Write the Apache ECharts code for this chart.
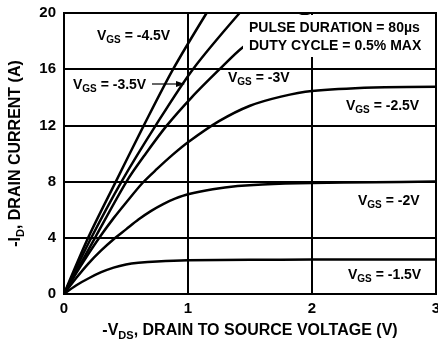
<!DOCTYPE html>
<html>
<head>
<meta charset="utf-8">
<script src="https://cdn.jsdelivr.net/npm/echarts@6/dist/echarts.min.js"></script>
<style>
  html, body { margin: 0; padding: 0; background: #fff; }
  #chart { width: 438px; height: 340px; }
</style>
</head>
<body>
<div id="chart"></div>
<script>
// Output characteristics: -ID versus -VDS for several gate voltages
const xTicks = [0, 1, 2, 3];
const yTicks = [0, 4, 8, 12, 16, 20];

// [ -VDS (V), -ID (A) ] per gate-source voltage
const vgs45 = [[0,0],[0.2,4.1],[0.418,8],[0.644,12],[0.88,16],[1.15,20]];
const vgs35 = [[0,0],[0.22,4],[0.464,8],[0.74,12],[1.04,16],[1.416,20]];
const vgs30 = [[0,0],[0.25,4],[0.504,8],[0.66,10],[0.83,12],[1.03,14],[1.255,16],[1.44,17.55],[1.7,19.1],[1.98,20]];
const vgs25 = [[0,0],[0.1,1.5],[0.2,2.9],[0.3,4.2],[0.4,5.4],[0.5,6.5],[0.633,7.9],[0.75,8.9],[0.875,9.9],[1,10.8],[1.25,12.3],[1.5,13.4],[1.75,14.05],[2,14.45],[2.5,14.7],[3,14.75]];
const vgs20 = [[0,0],[0.1,1.15],[0.2,2.2],[0.3,3.1],[0.4,3.9],[0.5,4.6],[0.6,5.3],[0.7,5.9],[0.8,6.4],[0.9,6.8],[1,7.1],[1.2,7.45],[1.4,7.68],[1.6,7.8],[2,7.9],[2.5,7.95],[3,8.0]];
const vgs15 = [[0,0],[0.1,0.62],[0.2,1.12],[0.3,1.55],[0.4,1.88],[0.5,2.1],[0.6,2.22],[0.75,2.32],[1,2.4],[1.5,2.43],[2,2.45],[3,2.46]];

const curves = [vgs45, vgs35, vgs30, vgs25, vgs20, vgs15];

const FONT = '"Liberation Sans", Arial, sans-serif';

// "VGS = ..." label with subscript
const vgsRich = {
  v: { fontFamily: FONT, fontWeight: 'bold', fontSize: 14, color: '#000', lineHeight: 18, verticalAlign: 'middle' },
  s: { fontFamily: FONT, fontWeight: 'bold', fontSize: 10, color: '#000', lineHeight: 18, verticalAlign: 'bottom' }
};
function vgsLabel(value, x, y) {
  return {
    type: 'text', left: x, top: y, z: 110,
    style: { text: '{v|V}{s|GS}{v| = ' + value + 'V}', rich: vgsRich }
  };
}

const chart = echarts.init(document.getElementById('chart'), null, { renderer: 'canvas' });

chart.setOption({
  animation: false,
  backgroundColor: '#fff',
  grid: {
    left: 64, right: 2, top: 13, bottom: 46,
    outerBoundsMode: 'none', containLabel: false,
    show: true, borderColor: '#000', borderWidth: 2, backgroundColor: 'transparent'
  },
  xAxis: {
    type: 'value', min: xTicks[0], max: xTicks[xTicks.length - 1], interval: 1,
    axisLine: { show: false }, axisTick: { show: false },
    splitLine: { show: true, lineStyle: { color: '#000', width: 2 } },
    axisLabel: { margin: 7, fontFamily: FONT, fontWeight: 'bold', fontSize: 15, color: '#000',
      showMinLabel: true, showMaxLabel: true, hideOverlap: false },
    name: '{t|-V}{s|DS}{t|, DRAIN TO SOURCE VOLTAGE (V)}',
    nameLocation: 'middle', nameGap: 27,
    nameTextStyle: {
      rich: {
        t: { fontFamily: FONT, fontWeight: 'bold', fontSize: 16, color: '#000', lineHeight: 20, verticalAlign: 'middle' },
        s: { fontFamily: FONT, fontWeight: 'bold', fontSize: 11, color: '#000', lineHeight: 20, verticalAlign: 'bottom' }
      }
    }
  },
  yAxis: {
    type: 'value', min: yTicks[0], max: yTicks[yTicks.length - 1], interval: 4,
    axisLine: { show: false }, axisTick: { show: false },
    splitLine: { show: true, lineStyle: { color: '#000', width: 2 } },
    axisLabel: { margin: 8, fontFamily: FONT, fontWeight: 'bold', fontSize: 15, color: '#000' },
    name: '{t|-I}{s|D}{t|, DRAIN CURRENT (A)}',
    nameLocation: 'middle', nameGap: 38, nameRotate: 90,
    nameTextStyle: {
      rich: {
        t: { fontFamily: FONT, fontWeight: 'bold', fontSize: 16, color: '#000', lineHeight: 20, verticalAlign: 'middle' },
        s: { fontFamily: FONT, fontWeight: 'bold', fontSize: 11, color: '#000', lineHeight: 20, verticalAlign: 'bottom' }
      }
    }
  },
  series: curves.map(function (d) {
    return {
      type: 'line', data: d, showSymbol: false, smooth: 0.3,
      lineStyle: { color: '#000', width: 2.5 }, z: 3, silent: true, clip: true
    };
  }),
  graphic: [
    // test-condition note box
    { type: 'rect', z: 100, shape: { x: 243, y: 15, width: 192, height: 42 }, style: { fill: '#fff' } },
    { type: 'text', left: 249, top: 19, z: 110,
      style: { text: 'PULSE DURATION = 80\u00b5s\nDUTY CYCLE = 0.5% MAX', fontFamily: FONT, fontWeight: 'bold', fontSize: 14, lineHeight: 18, fill: '#000' } },
    vgsLabel('-4.5', 97, 29),
    vgsLabel('-3.5', 73, 78),
    vgsLabel('-3', 228, 71),
    vgsLabel('-2.5', 346, 99),
    vgsLabel('-2', 358, 194),
    vgsLabel('-1.5', 348, 268),
    // pointer to the -3.5V curve
    { type: 'line', z: 110, shape: { x1: 152, y1: 84, x2: 178, y2: 84 }, style: { stroke: '#000', lineWidth: 1.2 } },
    { type: 'polygon', z: 110, shape: { points: [[185, 84], [176, 81], [176, 87]] }, style: { fill: '#000' } }
  ]
});
</script>
</body>
</html>
